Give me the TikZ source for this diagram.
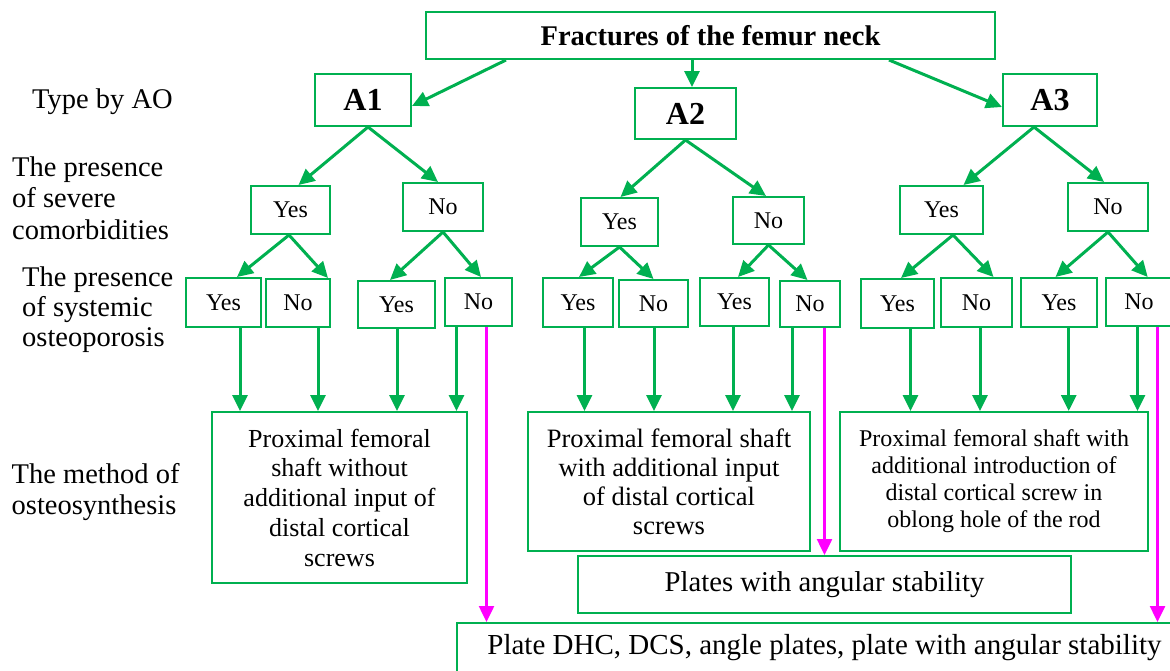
\documentclass[tikz,border=0pt]{standalone}
\usepackage{fontspec}
\setmainfont{Liberation Serif}
\usetikzlibrary{arrows.meta,calc}
\definecolor{grn}{HTML}{00B050}
\definecolor{mag}{HTML}{FF00FF}
\newcommand\vdrop[4]{\draw[#1] let \p1=($(#2.south)+(#3,0)$), \p2=(#4.north) in (\p1) -- (\x1,\y2);}
\begin{document}
\begin{tikzpicture}[x=1pt,y=-1pt,
 box/.style={draw=grn,line width=2pt,rectangle,inner sep=0pt,align=center},
 arr/.style={draw=grn,line width=3pt,-{Triangle[length=16pt,width=15pt]}},
 marr/.style={draw=mag,line width=2.5pt,-{Triangle[length=16pt,width=15pt]}},
 lbl/.style={anchor=west,align=left,inner sep=0pt},
 yn/.style={box,font=\fontsize{24}{28}\selectfont},
 ao/.style={box,font=\bfseries\fontsize{32}{36}\selectfont},
 ]
\useasboundingbox (0,0) rectangle (1170,670);

% left labels
\node[lbl,font=\fontsize{28.5}{31.5}\selectfont] (L1) at (32,102) {Type by AO};
\node[lbl,font=\fontsize{28.5}{31.5}\selectfont] (L2) at (12,198) {The presence\\of severe\\comorbidities};
\node[lbl,font=\fontsize{28.5}{30}\selectfont] (L3) at (22,310) {The presence\\of systemic\\osteoporosis};
\node[lbl,font=\fontsize{28.5}{31}\selectfont] (L4) at (11.5,492.5) {The method of\\osteosynthesis};

% top
\node[box,font=\bfseries\fontsize{28.5}{32}\selectfont,minimum width=569pt,minimum height=47pt] (top) at (710.5,35.5) {Fractures of the femur neck};

% AO types
\node[ao,minimum width=96pt,minimum height=52pt] (A1) at (363,100) {A1};
\node[ao,minimum width=101pt,minimum height=51pt] (A2) at (685.5,113.5) {A2};
\node[ao,minimum width=94pt,minimum height=52pt] (A3) at (1050,100) {A3};

% comorbidities
\node[yn,minimum width=79pt,minimum height=48pt] (Y1) at (290.5,210) {Yes};
\node[yn,minimum width=80pt,minimum height=48pt] (N1) at (443,207) {No};
\node[yn,minimum width=77pt,minimum height=48pt] (Y2) at (619.5,222) {Yes};
\node[yn,minimum width=71pt,minimum height=47pt] (N2) at (768.5,220.5) {No};
\node[yn,minimum width=83pt,minimum height=48pt] (Y3) at (941.5,210) {Yes};
\node[yn,minimum width=80pt,minimum height=48pt] (N3) at (1108,207) {No};

% osteoporosis
\node[yn,minimum width=75pt,minimum height=49pt] (Y1Y) at (223.5,302.5) {Yes};
\node[yn,minimum width=64pt,minimum height=48pt] (Y1N) at (298,303) {No};
\node[yn,minimum width=77pt,minimum height=47pt] (N1Y) at (396.5,304.5) {Yes};
\node[yn,minimum width=67pt,minimum height=48pt] (N1N) at (478.5,302) {No};
\node[yn,minimum width=70pt,minimum height=49pt] (Y2Y) at (578,302.5) {Yes};
\node[yn,minimum width=69pt,minimum height=47pt] (Y2N) at (653.5,303.5) {No};
\node[yn,minimum width=69pt,minimum height=48pt] (N2Y) at (734.5,302) {Yes};
\node[yn,minimum width=60pt,minimum height=46pt] (N2N) at (810,304) {No};
\node[yn,minimum width=73pt,minimum height=49pt] (Y3Y) at (897.5,303.5) {Yes};
\node[yn,minimum width=71pt,minimum height=49pt] (Y3N) at (976.5,302.5) {No};
\node[yn,minimum width=76pt,minimum height=49pt] (N3Y) at (1059,302.5) {Yes};
\node[yn,minimum width=66pt,minimum height=48pt] (N3N) at (1139,302) {No};

% methods
\node[box,font=\fontsize{26}{29.75}\selectfont,minimum width=255pt,minimum height=171pt] (M1) at (339.5,497.5)
  {Proximal femoral\\shaft without\\additional input of\\distal cortical\\screws};
\node[box,font=\fontsize{26.5}{29}\selectfont,minimum width=282pt,minimum height=139pt] (M2) at (669,481.5)
  {Proximal femoral shaft\\with additional input\\of distal cortical\\screws};
\node[box,font=\fontsize{24}{27}\selectfont,minimum width=308pt,minimum height=139pt] (M3) at (994,481.5)
  {Proximal femoral shaft with\\additional introduction of\\distal cortical screw in\\oblong hole of the rod};
\node[box,font=\fontsize{28.7}{32}\selectfont,minimum width=493pt,minimum height=57pt] (PL) at (824.5,584.5)
  {Plates with angular stability};
\node[box,font=\fontsize{29}{32}\selectfont,minimum width=735pt,minimum height=50pt] (DHC) at (824.5,648)
  {Plate DHC, DCS, angle plates, plate with angular stability};

% top-level arrows
\draw[arr] ($(top.south west)+(81,0)$) -- ($(A1.east)+(0,6)$);
\draw[arr] ($(top.south west)+(267,0)$) -- ($(A2.north west)+(58,0)$);
\draw[arr] ($(top.south west)+(464,0)$) -- ($(A3.west)+(0,7)$);

% AO -> comorbidities
\draw[arr] ($(A1.south)+(5,0)$) -- ($(Y1.north)+(8,0)$);
\draw[arr] ($(A1.south)+(5,0)$) -- ($(N1.north)+(-5,0)$);
\draw[arr] (A2.south) -- ($(Y2.north)+(1,0)$);
\draw[arr] (A2.south) -- ($(N2.north)+(-2.5,0)$);
\draw[arr] ($(A3.south)+(-16,0)$) -- ($(Y3.north)+(22,0)$);
\draw[arr] ($(A3.south)+(-16,0)$) -- ($(N3.north)+(-4,0)$);

% comorbidities -> osteoporosis
\draw[arr] ($(Y1.south)+(-1.5,0)$) -- ($(Y1Y.north)+(13.5,0)$);
\draw[arr] ($(Y1.south)+(-1.5,0)$) -- ($(Y1N.north)+(30,0)$);
\draw[arr] (N1.south) -- ($(N1Y.north)+(-6.5,0)$);
\draw[arr] (N1.south) -- ($(N1N.north)+(2.5,0)$);
\draw[arr] (Y2.south) -- ($(Y2Y.north)+(1,0)$);
\draw[arr] (Y2.south) -- (Y2N.north);
\draw[arr] (N2.south) -- ($(N2Y.north)+(3.5,0)$);
\draw[arr] (N2.south) -- ($(N2N.north)+(-2.5,0)$);
\draw[arr] ($(Y3.south)+(11.5,0)$) -- ($(Y3Y.north)+(3.5,0)$);
\draw[arr] ($(Y3.south)+(11.5,0)$) -- ($(Y3N.north)+(17,0)$);
\draw[arr] (N3.south) -- ($(N3Y.north)+(-3.5,0)$);
\draw[arr] (N3.south) -- ($(N3N.north)+(8.7,0)$);

% osteoporosis -> methods
\vdrop{arr}{Y1Y}{16.5}{M1}
\vdrop{arr}{Y1N}{20}{M1}
\vdrop{arr}{N1Y}{0.5}{M1}
\vdrop{arr}{N1N}{-22}{M1}
\vdrop{marr}{N1N}{8}{DHC}
\vdrop{arr}{Y2Y}{6.5}{M2}
\vdrop{arr}{Y2N}{0.5}{M2}
\vdrop{arr}{N2Y}{-1.5}{M2}
\vdrop{arr}{N2N}{-18}{M2}
\vdrop{marr}{N2N}{14.5}{PL}
\vdrop{arr}{Y3Y}{13}{M3}
\vdrop{arr}{Y3N}{3.5}{M3}
\vdrop{arr}{N3Y}{9.7}{M3}
\vdrop{arr}{N3N}{-1.5}{M3}
\vdrop{marr}{N3N}{18.5}{DHC}
\end{tikzpicture}
\end{document}
